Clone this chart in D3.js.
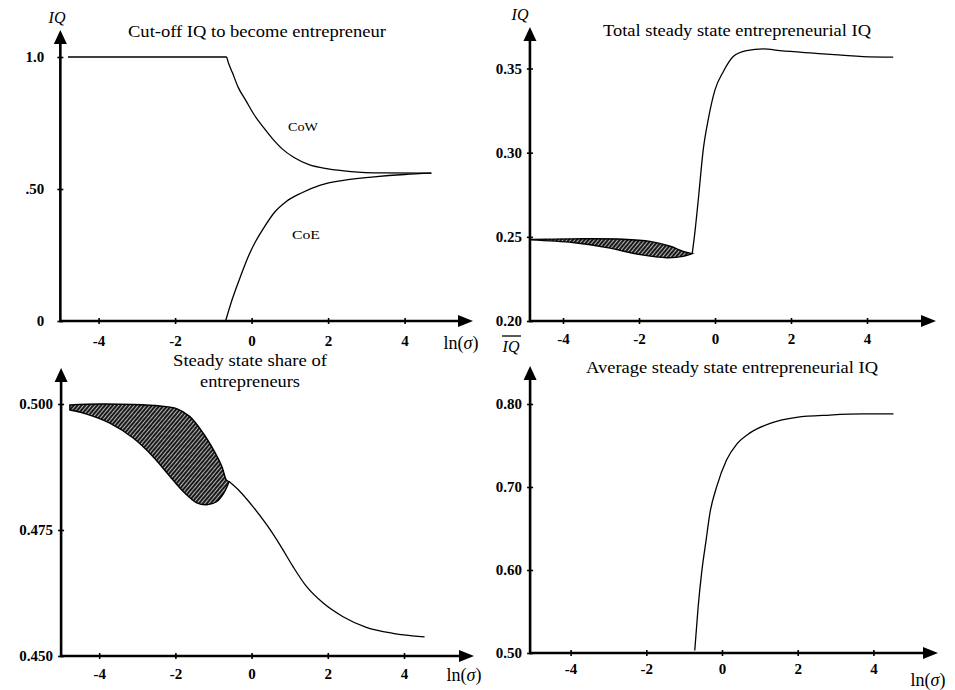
<!DOCTYPE html>
<html><head><meta charset="utf-8">
<script src="https://cdn.jsdelivr.net/npm/d3@7"></script>
<style>
body{margin:0;background:#fff}
text{font-family:"Liberation Serif","Times New Roman",serif;fill:#000}
</style>
</head><body>
<svg id="chart" width="955" height="690"></svg>
<script>
// ---------------- DATA ----------------
const xTicks = [-4, -2, 0, 2, 4];
const xTickLabels = ["-4", "-2", "0", "2", "4"];

// Panel 1: Cut-off IQ
const p1YTicks = [0, 0.5, 1.0];
const p1YTickLabels = ["0", ".50", "1.0"];
const cowLnSigma = [-4.8, -3.0, -1.5, -0.66, -0.6, -0.5, -0.35, -0.15, 0.05, 0.3, 0.55, 0.8, 1.1, 1.5, 2.0, 2.6, 3.4, 4.7];
const cowIQ      = [1.0, 1.0, 1.0, 1.0, 0.975, 0.94, 0.885, 0.835, 0.785, 0.735, 0.69, 0.652, 0.62, 0.592, 0.576, 0.566, 0.561, 0.56];
const coeLnSigma = [-0.68, -0.5, -0.3, -0.1, 0.1, 0.35, 0.6, 0.9, 1.3, 1.8, 2.4, 3.2, 4.0, 4.7];
const coeIQ      = [0.0, 0.085, 0.165, 0.24, 0.3, 0.36, 0.412, 0.452, 0.485, 0.515, 0.533, 0.546, 0.555, 0.56];

// Panel 2: Total steady state entrepreneurial IQ
const p2YTicks = [0.20, 0.25, 0.30, 0.35];
const p2YTickLabels = ["0.20", "0.25", "0.30", "0.35"];
const totalLnSigma = [-0.6, -0.53, -0.44, -0.31, -0.18, 0.0, 0.22, 0.48, 0.83, 1.27, 1.71, 2.59, 3.9, 4.69];
const totalIQ      = [0.240, 0.2525, 0.272, 0.3017, 0.3195, 0.3373, 0.3482, 0.3571, 0.3606, 0.3616, 0.3606, 0.3591, 0.3571, 0.3567];
const totalBandUpperX = [-4.87, -3.74, -2.42, -1.71, -1.18, -0.84, -0.6];
const totalBandUpperY = [0.2485, 0.2488, 0.2486, 0.2473, 0.2444, 0.2414, 0.240];
const totalBandLowerX = [-4.87, -3.74, -2.84, -1.97, -1.26, -0.84, -0.6];
const totalBandLowerY = [0.2482, 0.2466, 0.2436, 0.2394, 0.2376, 0.2384, 0.240];

// Panel 3: Steady state share of entrepreneurs
const p3YTicks = [0.450, 0.475, 0.500];
const p3YTickLabels = ["0.450", "0.475", "0.500"];
const shareUpperX = [-4.77, -3.98, -3.1, -2.4, -1.97, -1.62, -1.27, -1.0, -0.78, -0.66, -0.59];
const shareUpperY = [0.4998, 0.5, 0.4999, 0.4996, 0.4991, 0.4975, 0.4942, 0.4909, 0.4876, 0.4849, 0.4846];
const shareLowerX = [-4.77, -4.33, -3.72, -3.1, -2.58, -2.14, -1.79, -1.44, -1.18, -0.92, -0.73, -0.59];
const shareLowerY = [0.4988, 0.498, 0.4962, 0.4932, 0.4895, 0.4856, 0.4826, 0.4804, 0.48, 0.4806, 0.4823, 0.4846];
const shareLnSigma = [-0.59, -0.3, 0.04, 0.4, 0.74, 1.09, 1.44, 1.88, 2.4, 3.01, 3.71, 4.54];
const shareValue   = [0.4846, 0.4826, 0.4796, 0.4760, 0.4721, 0.4677, 0.4638, 0.4605, 0.4578, 0.4557, 0.4545, 0.4538];

// Panel 4: Average steady state entrepreneurial IQ
const p4YTicks = [0.50, 0.60, 0.70, 0.80];
const p4YTickLabels = ["0.50", "0.60", "0.70", "0.80"];
const avgLnSigma = [-0.72, -0.63, -0.54, -0.42, -0.32, -0.14, 0.12, 0.39, 0.74, 1.27, 1.97, 2.85, 3.73, 4.53];
const avgIQ      = [0.503, 0.5558, 0.596, 0.636, 0.6683, 0.7004, 0.7325, 0.7517, 0.7652, 0.7767, 0.784, 0.7867, 0.788, 0.788];

// ---------------- DRAWING ----------------
const svg = d3.select("#chart");
const defs = svg.append("defs");
const pat = defs.append("pattern").attr("id", "hatch").attr("patternUnits", "userSpaceOnUse")
  .attr("width", 3).attr("height", 3).attr("patternTransform", "rotate(40)");
pat.append("rect").attr("width", 3).attr("height", 3).attr("fill", "#1a1a1a");
pat.append("line").attr("x1", 0.5).attr("y1", 0).attr("x2", 0.5).attr("y2", 3)
  .attr("stroke", "#d0d0d0").attr("stroke-width", 0.85);

const zip = (xs, ys) => xs.map((x, i) => [x, ys[i]]);

function panel(cfg) {
  const g = svg.append("g");
  const x = d3.scaleLinear().domain([-4, 4]).range(cfg.xr);
  const y = d3.scaleLinear().domain(cfg.yd).range(cfg.yr);
  const ox = x(cfg.xmin), oy = y(cfg.yd[0]);

  const ax = d3.axisBottom(x).tickValues(xTicks).tickFormat((d, i) => xTickLabels[i])
    .tickSizeInner(3).tickSizeOuter(0).tickPadding(cfg.xpad);
  const gx = g.append("g").attr("transform", `translate(0,${oy})`).call(ax);
  gx.select(".domain").remove();
  gx.selectAll(".tick line").attr("y1", -3).attr("stroke", "#000").attr("stroke-width", 1.6);
  gx.selectAll(".tick text").attr("font-size", 15).attr("font-weight", "bold");

  const ay = d3.axisLeft(y).tickValues(cfg.yTicks).tickFormat((d, i) => cfg.yLabels[i])
    .tickSizeInner(3).tickSizeOuter(0).tickPadding(cfg.ypad);
  const gy = g.append("g").attr("transform", `translate(${ox},0)`).call(ay);
  gy.select(".domain").remove();
  gy.selectAll(".tick line").attr("x1", 3).attr("stroke", "#000").attr("stroke-width", 1.6);
  gy.selectAll(".tick text").attr("font-size", 15).attr("font-weight", "bold");

  g.append("line").attr("x1", ox).attr("y1", oy).attr("x2", cfg.xTip - 12).attr("y2", oy)
    .attr("stroke", "#000").attr("stroke-width", 2.6);
  g.append("path").attr("d", `M${cfg.xTip},${oy} L${cfg.xTip - 15},${oy - 6} L${cfg.xTip - 15},${oy + 6} Z`).attr("fill", "#000");
  g.append("line").attr("x1", ox).attr("y1", oy + 1.3).attr("x2", ox).attr("y2", cfg.yTip + 12)
    .attr("stroke", "#000").attr("stroke-width", 2.6);
  g.append("path").attr("d", `M${ox},${cfg.yTip} L${ox - 6.5},${cfg.yTip + 14} L${ox + 6.5},${cfg.yTip + 14} Z`).attr("fill", "#000");

  return { g, x, y };
}

function addLine(p, xs, ys, curve) {
  const line = d3.line().x(d => p.x(d[0])).y(d => p.y(d[1])).curve(curve || d3.curveMonotoneX);
  p.g.append("path").attr("d", line(zip(xs, ys))).attr("fill", "none")
    .attr("stroke", "#000").attr("stroke-width", 1.3);
}

function addBand(p, ux, uy, lx, ly) {
  const line = d3.line().x(d => p.x(d[0])).y(d => p.y(d[1])).curve(d3.curveCatmullRom.alpha(0.5));
  const up = line(zip(ux, uy));
  const lo = line(zip(lx, ly).reverse()).replace(/^M/, "L");
  p.g.append("path").attr("d", up + lo + "Z").attr("fill", "url(#hatch)")
    .attr("stroke", "#000").attr("stroke-width", 1.4);
}

function addText(txt, x, y, size, opts = {}) {
  const t = svg.append("text").attr("x", x).attr("y", y).attr("font-size", size)
    .attr("text-anchor", opts.anchor || "middle").text(txt);
  if (opts.italic) t.attr("font-style", "italic");
  if (opts.bold) t.attr("font-weight", "bold");
  if (opts.len) t.attr("textLength", opts.len).attr("lengthAdjust", "spacingAndGlyphs");
  return t;
}

function addLnSigma(x, y) {
  const t = svg.append("text").attr("x", x).attr("y", y).attr("font-size", 18).attr("text-anchor", "middle");
  t.append("tspan").text("ln(");
  t.append("tspan").attr("font-style", "italic").text("σ");
  t.append("tspan").text(")");
}

// Panel 1
const p1 = panel({ xr: [98.6, 404.6], yd: [0, 1], yr: [321, 57], xmin: -5.0, xTip: 473, yTip: 30,
  yTicks: p1YTicks, yLabels: p1YTickLabels, xpad: 11, ypad: 13 });
addLine(p1, cowLnSigma, cowIQ);
addLine(p1, coeLnSigma, coeIQ);
addText("Cut-off IQ to become entrepreneur", 257, 37, 16, { len: 258 });
addText("CoW", 303, 131, 13, { len: 30 });
addText("CoE", 306, 239, 13, { len: 28 });
addText("IQ", 57, 23, 16, { italic: true });
addLnSigma(461, 349);

// Panel 2
const p2 = panel({ xr: [563, 867], yd: [0.20, 0.35], yr: [321, 68.5], xmin: -4.87, xTip: 936, yTip: 27,
  yTicks: p2YTicks, yLabels: p2YTickLabels, xpad: 9, ypad: 5 });
addBand(p2, totalBandUpperX, totalBandUpperY, totalBandLowerX, totalBandLowerY);
addLine(p2, totalLnSigma, totalIQ);
addText("Total steady state entrepreneurial IQ", 737, 36, 16, { len: 268 });
addText("IQ", 520, 20, 16, { italic: true });

// Panel 3
const p3 = panel({ xr: [99.2, 404], yd: [0.45, 0.50], yr: [656, 404], xmin: -5.0, xTip: 474, yTip: 368,
  yTicks: p3YTicks, yLabels: p3YTickLabels, xpad: 9, ypad: 5 });
addBand(p3, shareUpperX, shareUpperY, shareLowerX, shareLowerY);
addLine(p3, shareLnSigma, shareValue);
addText("Steady state share of", 250, 366, 16, { len: 154 });
addText("entrepreneurs", 250, 387, 16, { len: 100 });
addLnSigma(464, 681);

// Panel 4
const p4 = panel({ xr: [570.6, 873.4], yd: [0.50, 0.80], yr: [653, 404], xmin: -5.07, xTip: 938, yTip: 366,
  yTicks: p4YTicks, yLabels: p4YTickLabels, xpad: 7, ypad: 5 });
addLine(p4, avgLnSigma, avgIQ);
addText("Average steady state entrepreneurial IQ", 732, 373, 16, { len: 292 });
addLnSigma(928, 686);
addText("IQ", 511, 352, 16, { italic: true });
svg.append("line").attr("x1", 502).attr("x2", 521).attr("y1", 336).attr("y2", 336)
  .attr("stroke", "#000").attr("stroke-width", 1.3);
</script>
</body></html>
